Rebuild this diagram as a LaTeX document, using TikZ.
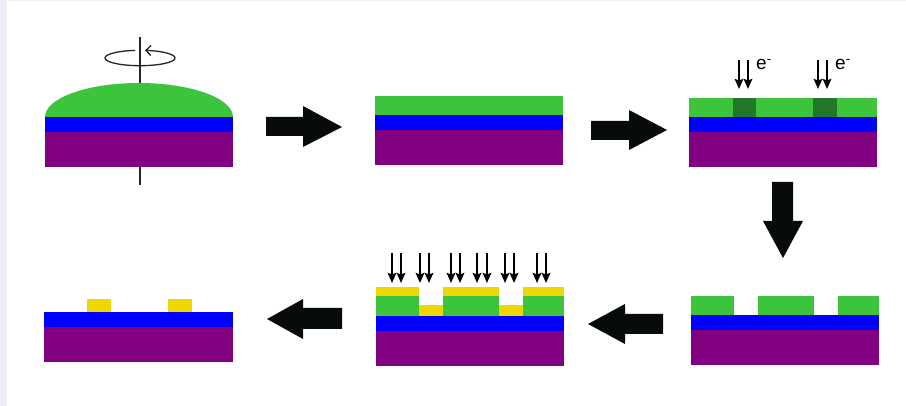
\documentclass[tikz,border=0pt]{standalone}
\usepackage{fontspec}
\setmainfont{Liberation Sans}
\usetikzlibrary{arrows.meta}
\definecolor{frame}{RGB}{238,238,251}
\definecolor{resist}{RGB}{60,196,60}
\definecolor{exposed}{RGB}{34,120,40}
\definecolor{oxide}{RGB}{0,0,255}
\definecolor{wafer}{RGB}{128,0,128}
\definecolor{metal}{RGB}{238,216,0}
\definecolor{flow}{RGB}{8,12,8}
\tikzset{
  resistfill/.style={fill=resist},
  oxidefill/.style={fill=oxide},
  waferfill/.style={fill=wafer},
  metalfill/.style={fill=metal},
  bigarrow/.style={fill=flow},
  beam/.style={line width=2.3pt,-{Stealth[length=10pt,width=8.5pt,inset=1.5pt]}},
  axis/.style={line width=1.3pt,draw=black!85},
  label/.style={font=\fontsize{19}{21}\selectfont,inner sep=0pt}
}
\begin{document}
\begin{tikzpicture}[x=1pt,y=1pt,yscale=-1]
% page background with frame strips
\fill[frame] (0,0) rectangle (906,406);
\fill[white] (7,1) rectangle (906,406);
\useasboundingbox (0,0) rectangle (906,406);

% ---- step 1: spin coating ----
\draw[axis] (140,37) -- (140,185);
\draw[axis,-{Straight Barb[length=5pt,width=10pt]}]
  (140,58) ++(261.8:35pt and 7.7pt) arc[start angle=261.8,end angle=-81.8,x radius=35pt,y radius=7.7pt];
\fill[resistfill] (45,117) .. controls (45,98.2) and (87.1,83) .. (139,83)
  .. controls (190.9,83) and (233,98.2) .. (233,117) -- cycle;
\fill[oxidefill] (45,117) rectangle (233,132);
\fill[waferfill] (45,132) rectangle (233,167);

% ---- step 2: uniform resist ----
\fill[resistfill] (375,96) rectangle (563,115);
\fill[oxidefill] (375,115) rectangle (563,130);
\fill[waferfill] (375,130) rectangle (563,165);

% ---- step 3: e-beam exposure ----
\fill[resistfill] (689,98) rectangle (877,117);
\fill[exposed] (733,98) rectangle (756,117);
\fill[exposed] (813,98) rectangle (837,117);
\fill[oxidefill] (689,117) rectangle (877,132);
\fill[waferfill] (689,132) rectangle (877,167);
\foreach \x in {739,748,818,827} \draw[beam] (\x,60) -- (\x,89);
\node[label,anchor=base west] (e1) at (756,70) {e\textsuperscript{-}};
\node[label,anchor=base west] (e2) at (835,70) {e\textsuperscript{-}};

% ---- step 4: developed resist ----
\fill[resistfill] (691,296) rectangle (734,315);
\fill[resistfill] (758,296) rectangle (814,315);
\fill[resistfill] (838,296) rectangle (879,315);
\fill[oxidefill] (691,315) rectangle (879,330);
\fill[waferfill] (691,330) rectangle (879,365);

% ---- step 5: metal deposition ----
\fill[resistfill] (376,296) rectangle (419,316);
\fill[resistfill] (443,296) rectangle (499,316);
\fill[resistfill] (523,296) rectangle (564,316);
\fill[metalfill] (376,287) rectangle (419,296);
\fill[metalfill] (443,287) rectangle (499,296);
\fill[metalfill] (523,287) rectangle (564,296);
\fill[metalfill] (419,305) rectangle (443,316);
\fill[metalfill] (499,305) rectangle (523,316);
\fill[oxidefill] (376,316) rectangle (564,331);
\fill[waferfill] (376,331) rectangle (564,366);
\foreach \x in {392,401,420,429,451,460,477,487,505,514,537,546}
  \draw[beam] (\x,253) -- (\x,283);

% ---- step 6: lift-off ----
\fill[metalfill] (87,299) rectangle (111,312);
\fill[metalfill] (168,299) rectangle (192,312);
\fill[oxidefill] (44,312) rectangle (233,327);
\fill[waferfill] (44,327) rectangle (233,362);

% ---- process arrows ----
\fill[bigarrow] (266,117) -- (303,117) -- (303,106) -- (342,127) -- (303,147) -- (303,136) -- (266,136) -- cycle;
\fill[bigarrow] (591,121) -- (629,121) -- (629,110) -- (667,130) -- (629,150) -- (629,140) -- (591,140) -- cycle;
\fill[bigarrow] (772,182) -- (793,182) -- (793,221) -- (803,221) -- (783,258) -- (763,221) -- (772,221) -- cycle;
\fill[bigarrow] (663,314) -- (625,314) -- (625,304) -- (588,324) -- (625,344) -- (625,334) -- (663,334) -- cycle;
\fill[bigarrow] (342,308) -- (303,308) -- (303,299) -- (267,319) -- (303,339) -- (303,329) -- (342,329) -- cycle;
\end{tikzpicture}
\end{document}
